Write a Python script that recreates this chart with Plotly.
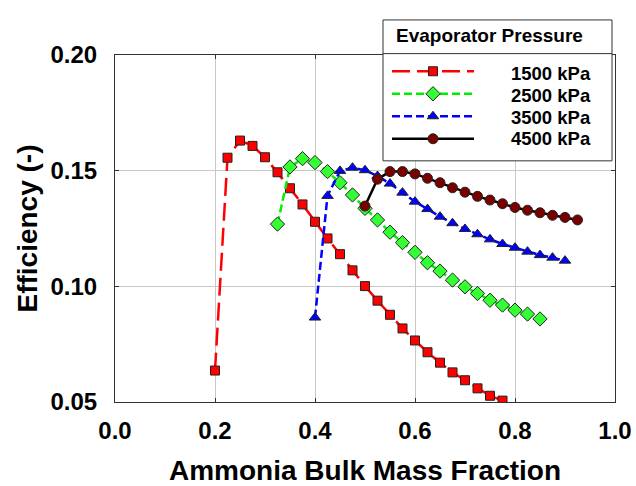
import plotly.graph_objects as go

# Ammonia bulk mass fraction (x) and efficiency (y) for each evaporator pressure
x_1500 = [0.200, 0.225, 0.250, 0.275, 0.300, 0.325, 0.350, 0.375, 0.400, 0.425, 0.450, 0.475,
          0.500, 0.525, 0.550, 0.575, 0.600, 0.625, 0.650, 0.675, 0.700, 0.725, 0.750, 0.775]
y_1500 = [0.0636, 0.1556, 0.1630, 0.1607, 0.1558, 0.1493, 0.1424, 0.1354, 0.1279, 0.1207, 0.1139, 0.1069,
          0.1001, 0.0938, 0.0877, 0.0818, 0.0766, 0.0715, 0.0670, 0.0628, 0.0594, 0.0559, 0.0527, 0.0506]

x_2500 = [0.325, 0.350, 0.375, 0.400, 0.425, 0.450, 0.475, 0.500, 0.525, 0.550, 0.575,
          0.600, 0.625, 0.650, 0.675, 0.700, 0.725, 0.750, 0.775, 0.800, 0.825, 0.850]
y_2500 = [0.1269, 0.1516, 0.1552, 0.1535, 0.1496, 0.1448, 0.1395, 0.1337, 0.1287, 0.1234, 0.1189,
          0.1147, 0.1102, 0.1066, 0.1027, 0.0998, 0.0969, 0.0940, 0.0919, 0.0897, 0.0880, 0.0859]

x_3500 = [0.400, 0.425, 0.450, 0.475, 0.500, 0.525, 0.550, 0.575, 0.600, 0.625, 0.650,
          0.675, 0.700, 0.725, 0.750, 0.775, 0.800, 0.825, 0.850, 0.875, 0.900]
y_3500 = [0.0865, 0.1391, 0.1499, 0.1513, 0.1502, 0.1477, 0.1444, 0.1405, 0.1366, 0.1334, 0.1301,
          0.1273, 0.1248, 0.1225, 0.1203, 0.1183, 0.1167, 0.1150, 0.1135, 0.1124, 0.1111]

x_4500 = [0.500, 0.525, 0.550, 0.575, 0.600, 0.625, 0.650, 0.675, 0.700,
          0.725, 0.750, 0.775, 0.800, 0.825, 0.850, 0.875, 0.900, 0.925]
y_4500 = [0.1347, 0.1463, 0.1496, 0.1496, 0.1486, 0.1467, 0.1448, 0.1426, 0.1407,
          0.1389, 0.1373, 0.1357, 0.1341, 0.1329, 0.1318, 0.1307, 0.1298, 0.1287]

names = ["1500 kPa", "2500 kPa", "3500 kPa", "4500 kPa"]
legend_title = "Evaporator Pressure"
x_ticks = [0.0, 0.2, 0.4, 0.6, 0.8, 1.0]
y_ticks = [0.05, 0.10, 0.15, 0.20]

FONT = "Liberation Sans, Arial, sans-serif"

series = [
    (x_1500, y_1500, names[0], "#ff0000", "18px,7px", "square", 9, "#ff0000"),
    (x_2500, y_2500, names[1], "#00ee00", "8px,4px", "diamond", 11, "#33ff33"),
    (x_3500, y_3500, names[2], "#0000ff", "8px,4px", "triangle-up", 10, "#0000ff"),
    (x_4500, y_4500, names[3], "#000000", "solid", "circle", 10, "#7a0000"),
]

fig = go.Figure()
for xs, ys, nm, lc, dash, sym, ms, mc in series:
    fig.add_trace(go.Scatter(
        x=xs, y=ys, name=" ", mode="lines+markers",
        hovertext=nm, legendgroup=nm,
        line=dict(color=lc, width=2.5, dash=dash),
        marker=dict(symbol=sym, size=ms, color=mc, line=dict(color="#222222", width=1)),
    ))

# legend labels drawn as text next to the native legend samples
label_rows = [0.947, 0.882, 0.820, 0.758]
annotations = [
    dict(text=legend_title, xref="paper", yref="paper", x=0.557, y=1.055,
         xanchor="left", yanchor="middle", showarrow=False,
         font=dict(family=FONT, size=19, weight="bold")),
]
for nm, yy in zip(names, label_rows):
    annotations.append(dict(text=nm, xref="paper", yref="paper", x=0.788, y=yy,
                            xanchor="left", yanchor="middle", showarrow=False,
                            font=dict(family=FONT, size=18.5, weight="bold")))

fig.update_layout(
    width=636, height=486,
    margin=dict(l=115, r=21, t=55, b=84),
    paper_bgcolor="white", plot_bgcolor="white",
    font=dict(family=FONT, color="black"),
    showlegend=True,
    legend=dict(
        x=0.544, y=1.0, xanchor="left", yanchor="top",
        bgcolor="rgba(0,0,0,0)", borderwidth=0,
        font=dict(family=FONT, size=15, color="rgba(0,0,0,0)"),
        itemwidth=82, tracegroupgap=0,
    ),
    xaxis=dict(
        range=[0, 1.0], tickvals=x_ticks, ticktext=["%.1f" % v for v in x_ticks],
        showgrid=True, gridcolor="#c8c8c8", gridwidth=1,
        showline=True, linecolor="#333333", linewidth=1, mirror="ticks",
        ticks="inside", ticklen=4, tickcolor="#333333",
        tickfont=dict(family=FONT, size=24, weight="bold"),
        ticklabelstandoff=7, automargin=False, ticklabeloverflow="allow",
        title=dict(text="Ammonia Bulk Mass Fraction", font=dict(family=FONT, size=28, weight="bold"), standoff=20),
        zeroline=False,
    ),
    yaxis=dict(
        range=[0.05, 0.20], tickvals=y_ticks, ticktext=["%.2f" % v for v in y_ticks],
        showgrid=True, gridcolor="#c8c8c8", gridwidth=1,
        showline=True, linecolor="#333333", linewidth=1, mirror="ticks",
        ticks="inside", ticklen=4, tickcolor="#333333",
        tickfont=dict(family=FONT, size=24, weight="bold"),
        ticklabelstandoff=12, automargin=False, ticklabeloverflow="allow",
        title=dict(text="Efficiency (-)", font=dict(family=FONT, size=28, weight="bold"), standoff=4),
        zeroline=False,
    ),
    shapes=[
        dict(type="rect", xref="paper", yref="paper", x0=0.536, x1=0.994, y0=0.695, y1=1.101,
             line=dict(color="#333333", width=1), fillcolor="white", layer="above"),
        dict(type="line", xref="paper", yref="paper", x0=0.536, x1=0.994, y0=1.004, y1=1.004,
             line=dict(color="#333333", width=1), layer="above"),
    ],
    annotations=annotations,
)

# remove the browser's default 8px page margin so the figure fills the window
fig.write_html("out.html", config={"displayModeBar": False},
               post_script="document.body.style.margin='0px';")
